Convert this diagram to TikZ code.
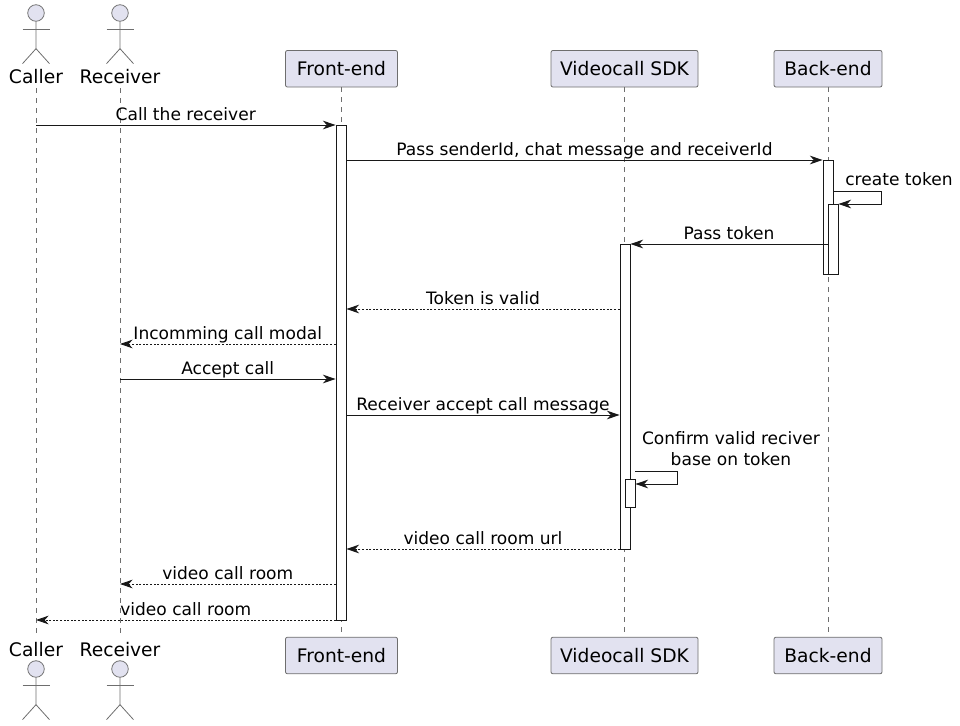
\documentclass[tikz,border=0pt]{standalone}
\usepackage{fontspec}
\setmainfont{DejaVu Sans}
\usetikzlibrary{arrows.meta, calc}
\definecolor{headfill}{HTML}{E2E2F0}
\definecolor{inkline}{HTML}{181818}
\definecolor{headline}{HTML}{6E6E6E}
\tikzset{
  party/.style={draw=headline, fill=headfill, rounded corners=1.5pt, line width=0.6pt, minimum height=27.5pt, inner sep=0pt, font=\fontsize{14}{16}\selectfont},
  actorname/.style={inner sep=0pt, text height=14.25pt, text depth=3pt, font=\fontsize{14}{16}\selectfont},
  limb/.style={draw=headline, line width=0.6pt},
  lifeline/.style={draw=headline, line width=0.5pt, dash pattern=on 3.75pt off 3.75pt},
  actbar/.style={draw=inkline, fill=white, line width=0.7pt, minimum width=7.5pt, inner sep=0pt, anchor=north},
  msg/.style={draw=inkline, line width=0.7pt, -{Stealth[length=9.5pt, width=6.5pt, inset=3pt]}},
  reply/.style={msg, dash pattern=on 1.5pt off 1.2pt},
  msgtext/.style={midway, above, inner sep=0pt, yshift=3.2pt, text depth=0pt, text=black, font=\fontsize{12.8}{15}\selectfont}
}
\begin{document}
\begin{tikzpicture}[x=0.75pt, y=-0.75pt]
  \useasboundingbox (0,0) rectangle (960,725);

  % Boxes at both ends
  \foreach \nm/\x/\boxw/\label in {fe/341.5/112/Front-end, sdk/624.5/147/Videocall SDK, be/828/108/Back-end} {
    \node[party, minimum width=\boxw*0.75pt] (\nm top) at (\x,68.75) {\label};
    \node[party, minimum width=\boxw*0.75pt] (\nm bot) at (\x,655.5) {\label};
    \draw[lifeline] (\nm top.south) -- (\nm bot.north);
  }

  % Actors
  \foreach \nm/\x/\label in {caller/36/Caller, receiver/120/Receiver} {
    \node[actorname, anchor=south] (\nm top) at (\x,88) {\label};
    \node[actorname, anchor=north] (\nm bot) at (\x,637) {\label};
    \draw[lifeline] (\nm top.south) -- (\nm bot.north);
    \foreach \y/\s in {13/top, 669/bot} {
      \node[circle, draw=headline, fill=headfill, line width=0.6pt, minimum size=12.4pt, inner sep=0pt] (\nm head\s) at (\x,\y) {};
      \draw[limb] (\nm head\s.south) -- ++(0,27) -- ++(-13.5,15);
      \draw[limb] (\nm head\s.south) ++(0,27) -- ++(13.5,15);
      \draw[limb] (\x-13.5,\y+16) -- (\x+13.5,\y+16);
    }
  }

  % Activation bars
  \node[actbar, minimum height=495*0.75pt] (febar) at (341,125) {};
  \node[actbar, minimum height=114*0.75pt] (bebar) at (828,160) {};
  \node[actbar, minimum height=70*0.75pt] (bebarb) at (833,204) {};
  \node[actbar, minimum height=305*0.75pt] (sdkbar) at (625,244) {};
  \node[actbar, minimum height=28*0.75pt] (sdkbarb) at (630,479) {};

  % Levels of the messages
  \foreach \nm/\y in {valid/309, modal/344, accept/379, confirm/415, url/549, room/584, last/620} {
    \coordinate (\nm) at (0,\y);
  }

  % Messages
  \draw[msg] (callertop.south |- febar.north west) -- (febar.north west)
    node[msgtext] {Call the receiver};
  \draw[msg] (febar.east |- bebar.north) -- (bebar.north west)
    node[msgtext] {Pass senderId, chat message and receiverId};
  \draw[msg] (bebarb.west |- sdkbar.north) -- (sdkbar.north east)
    node[msgtext] {Pass token};
  \draw[reply] (sdkbar.west |- valid) -- (febar.east |- valid)
    node[msgtext] {Token is valid};
  \draw[reply] (febar.west |- modal) -- (receivertop.south |- modal)
    node[msgtext] {Incomming call modal};
  \draw[msg] (receivertop.south |- accept) -- (febar.west |- accept)
    node[msgtext] {Accept call};
  \draw[msg] (febar.east |- confirm) -- (sdkbar.west |- confirm)
    node[msgtext] {Receiver accept call message};
  \draw[reply] (sdkbar.west |- url) -- (febar.east |- url)
    node[msgtext] {video call room url};
  \draw[reply] (febar.west |- room) -- (receivertop.south |- room)
    node[msgtext] {video call room};
  \draw[reply] (febar.west |- last) -- (callertop.south |- last)
    node[msgtext] {video call room};

  % Self messages
  \coordinate (tokenout) at (bebar.east |- 0,191.5);
  \coordinate (tokenback) at (bebarb.east |- 0,204);
  \draw[msg] (tokenout) -- (881,191.5) -- (881,204) -- (tokenback);
  \node[inner sep=0pt, text depth=0pt, anchor=base, font=\fontsize{12.8}{15}\selectfont] (tokentext) at (899,185.5) {create token};

  \coordinate (checkout) at (sdkbarb.east |- 0,471.5);
  \coordinate (checkback) at (sdkbarb.east |- 0,484);
  \draw[msg] (checkout) -- (677.5,471.5) -- (677.5,484) -- (checkback);
  \node[inner sep=0pt, anchor=base, align=center, font=\fontsize{12.8}{15.75}\selectfont] (checktext) at (731,465.5) {Confirm valid reciver\\base on token};
\end{tikzpicture}
\end{document}
